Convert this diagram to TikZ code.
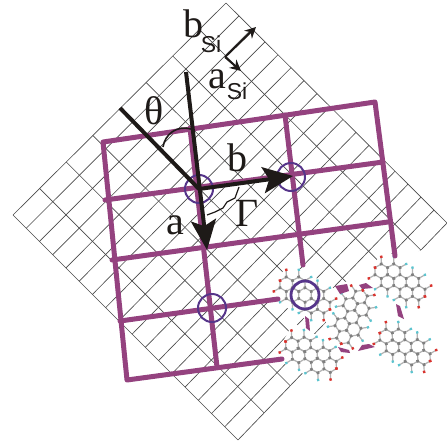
\documentclass[tikz,border=0pt]{standalone}
\usepackage{fontspec}
\setmainfont{Liberation Serif}
\newfontfamily\sifont{Liberation Sans}
\usetikzlibrary{calc,arrows.meta}
\definecolor{latt}{HTML}{94427F}
\definecolor{ring}{HTML}{56358A}
\definecolor{ink}{HTML}{1E1A18}
\definecolor{gridc}{HTML}{4A4A4A}
\definecolor{catom}{HTML}{808080}
\definecolor{oatom}{HTML}{D8332E}
\definecolor{hatom}{HTML}{5CC4CF}
\tikzset{
  gridline/.style={draw=gridc,line width=0.65pt},
  lattline/.style={draw=latt,line width=5pt,line cap=round,line join=round},
  cring/.style={draw=ring,line width=2pt},
  shaft/.style={draw=ink,line width=4pt},
  thinarrow/.style={draw=ink,line width=2pt},
  biglabel/.style={text=ink,inner sep=0pt,font=\fontsize{40}{40}\selectfont},
  silabel/.style={text=ink,inner sep=0pt,font=\sifont\fontsize{23}{23}\selectfont},
  bond/.style={draw=black!30,line width=1.2pt},
}
% one molecule: centre x, centre y, rotation
\newcommand\mymask[3]{\begin{scope}[shift={(#1,#2)},rotate=#3,x=7.2pt,y=7.2pt]
  \fill[white,rounded corners=6pt] (-4.3,-2.8) rectangle (4.3,2.8);
\end{scope}}
\newcommand\mymol[3]{\begin{scope}[shift={(#1,#2)},rotate=#3,x=7.2pt,y=7.2pt]
  \foreach \sx in {-1,1}{\foreach \sy in {-1,1}{
    \begin{scope}[xscale=\sx,yscale=\sy]
      \draw[bond] (1,0) -- (2,0) -- (2.5,.866) -- (2,1.732) -- (1,1.732) -- (.5,.866) -- (1,0);
      \draw[bond] (.5,.866) -- (0,.866);
      \draw[bond] (2.5,.866) -- (3.5,.866) -- (4,0);
      \draw[bond] (3.5,.866) -- (4,1.732);
      \draw[bond] (2,1.732) -- (2.5,2.598);
      \draw[bond] (1,1.732) -- (.5,2.598);
      \foreach \p in {(1,0),(2,0),(.5,.866),(2.5,.866),(1,1.732),(2,1.732),(3.5,.866)}
        \fill[catom] \p circle (1.9pt);
      \fill[oatom] (4,0) circle (1.7pt);
      \fill[oatom] (4,1.732) circle (1.7pt);
      \fill[hatom] (2.5,2.598) circle (1.6pt);
      \fill[hatom] (.5,2.598) circle (1.6pt);
    \end{scope}}}
\end{scope}}
\begin{document}
\begin{tikzpicture}[x=1pt,y=-1pt]
\useasboundingbox (0,0) rectangle (447,442);
\coordinate (L) at (13,215);
\coordinate (T) at (226,3);
\coordinate (B) at (238,440);
\coordinate (R) at (447,223);
% silicon grid
\foreach \i in {0,...,8}{
  \draw[gridline] ($(L)!\i/8!(T)$) -- ($(B)!\i/8!(R)$);
}
\foreach \j in {0,...,17}{
  \draw[gridline] ($(L)!\j/17!(B)$) -- ($(T)!\j/17!(R)$);
}
% white ground behind the molecules
\fill[white] (322,300) -- (345,282) -- (392,262) -- (447,240) -- (447,400) -- (300,400) -- (330,345) -- cycle;
\mymask{305}{295}{-30}
\mymask{311}{355}{-28}
\mymask{352}{317}{68}
\mymask{400}{282}{-30}
\mymask{405}{347}{-29}
% molecules
\mymol{305}{295}{-30}
\mymol{311}{355}{-28}
\mymol{352}{317}{68}
\mymol{400}{282}{-30}
\mymol{405}{347}{-29}
% organic lattice
\coordinate (tl) at (103,142);
\coordinate (tr) at (375,102);
\coordinate (bl) at (127,380);
\coordinate (be) at (282,359);
\coordinate (re) at (395,256);
\draw[lattline] (re) -- (tr) -- (tl) -- (bl) -- (be);
\draw[lattline] (190,128) -- (217,367);
\draw[lattline] (285,115) -- (303,265);
\draw[lattline] (105,200) -- (383,162);
\draw[lattline] (112,260) -- (388,222);
\draw[lattline] (120,321) -- (278,299);
% fragments of the lattice between molecules
\fill[latt] (335,286) -- (347,284) -- (349,291) -- (340,294) -- cycle;
\fill[latt] (359,285) -- (366,283) -- (373,288) -- (362,289) -- cycle;
\fill[latt] (396,304) -- (400,306) -- (404,319) -- (398,316) -- cycle;
\fill[latt] (305,316) -- (309,319) -- (310,331) -- (306,328) -- cycle;
\fill[latt] (338,347) -- (349,350) -- (350,353) -- (341,352) -- cycle;
\fill[latt] (358,351) -- (362,345) -- (369,344) -- (375,347) -- cycle;
% rings
\coordinate (c1) at (199,189);
\coordinate (c2) at (291,177);
\coordinate (c3) at (212,308);
\coordinate (c4) at (305,295);
\draw[cring] (c1) circle (14);
\draw[cring] (c2) circle (14);
\draw[cring] (c3) circle (14);
\draw[cring,line width=2.8pt] (c4) circle (14);
% axes
\coordinate (th) at (120,108);
\coordinate (up) at (186,72);
\coordinate (tipa) at (207,250);
\coordinate (tipb) at (293,176);
\draw[shaft] (th) -- (c1);
\draw[shaft,-{Stealth[length=30pt,width=25pt,inset=6pt]}] (up) -- (tipa);
\draw[shaft,-{Stealth[length=30pt,width=26pt,inset=6pt]}] (c1) -- (tipb);
% angle arc and Gamma trace
\draw[ink,line width=1.6pt] (163,147) .. controls (165,134) and (177,125) .. (191,129);
\draw[ink,line width=1.2pt] (239,187) -- (235,198) -- (227,202) -- (223,208) -- (215,212) -- (207,215);
% silicon axes
\coordinate (si) at (225,57);
\coordinate (sib) at (256,27);
\coordinate (sia) at (241,71);
\draw[thinarrow,-{Stealth[length=11pt,width=11pt]}] (si) -- (sib);
\draw[thinarrow,-{Stealth[length=11pt,width=11pt]}] (si) -- (sia);
% labels
\node[biglabel] (lbs) at (193,24) {b};
\node[silabel] (lsib) at (211,44) {Si};
\node[biglabel] (las) at (217,79) {a};
\node[silabel] (lsia) at (237,91) {Si};
\node[biglabel] (lth) at (154,111) {θ};
\node[biglabel] (lb) at (237,158) {b};
\node[biglabel] (lG) at (247,213) {Γ};
\node[biglabel] (la) at (175,225) {a};
\end{tikzpicture}
\end{document}
